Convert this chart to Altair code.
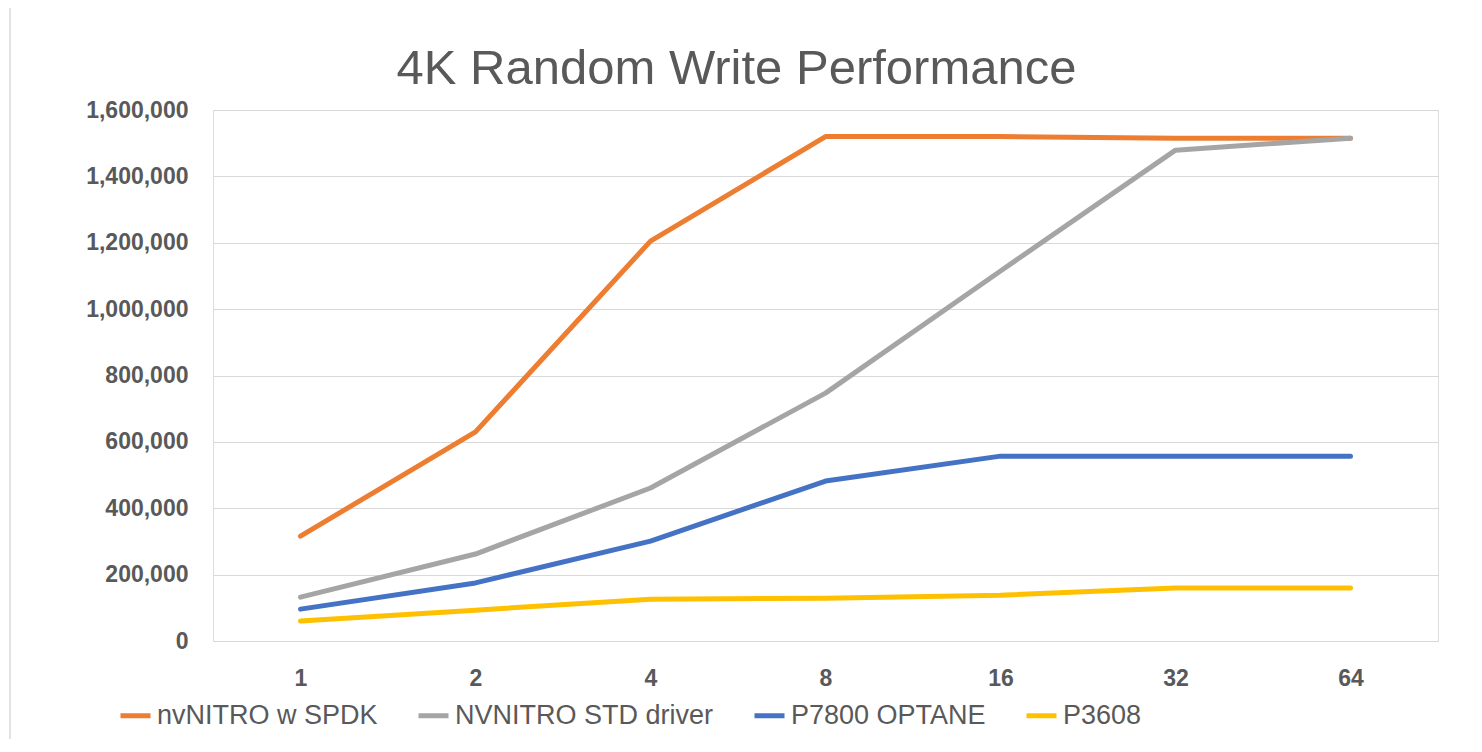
import altair as alt
import pandas as pd

categories = ["1", "2", "4", "8", "16", "32", "64"]
series_names = ["nvNITRO w SPDK", "NVNITRO STD driver", "P7800 OPTANE", "P3608"]
nvnitro_spdk = [316000, 630000, 1205000, 1520000, 1520000, 1515000, 1515000]
nvnitro_std = [132000, 262000, 461000, 747000, 1115000, 1479000, 1515000]
p7800_optane = [96000, 175000, 301000, 482000, 557000, 557000, 557000]
p3608 = [60000, 93000, 126000, 129000, 138000, 160000, 160000]
colors = ["#ED7D31", "#A5A5A5", "#4472C4", "#FFC000"]
title_text = "4K Random Write Performance"

rows = []
for name, vals in zip(series_names, [nvnitro_spdk, nvnitro_std, p7800_optane, p3608]):
    for c, v in zip(categories, vals):
        rows.append({"qd": c, "iops": v, "series": name})
df = pd.DataFrame(rows)

W, H = 1225, 531
grey = "#595959"

lines = alt.Chart(df).mark_line(strokeWidth=5, strokeCap="round", strokeJoin="round").encode(
    x=alt.X("qd:N", sort=categories, scale=alt.Scale(type="point", padding=0.5),
            axis=alt.Axis(title=None, labelAngle=0, labelFont="Liberation Sans", labelFontSize=23,
                          labelFontWeight="bold", labelColor=grey, ticks=False, domain=False,
                          labelPadding=26, grid=False)),
    y=alt.Y("iops:Q", scale=alt.Scale(domain=[0, 1600000], nice=False),
            axis=alt.Axis(title=None, values=list(range(0, 1600001, 200000)), format=",d",
                          labelFont="Liberation Sans", labelFontSize=23, labelFontWeight="bold",
                          labelColor=grey, ticks=False, domain=False, labelPadding=25,
                          grid=True, gridColor="#D9D9D9", gridWidth=1.2)),
    color=alt.Color("series:N", sort=series_names,
                    scale=alt.Scale(domain=series_names, range=colors),
                    legend=alt.Legend(title=None, orient="none", direction="horizontal",
                                      legendX=-95, legendY=588, symbolType="stroke",
                                      symbolStrokeWidth=5, symbolSize=900,
                                      labelFont="Liberation Sans", labelFontSize=27,
                                      labelColor=grey, labelOffset=4, columnPadding=30,
                                      labelLimit=400)),
)

title = alt.Chart(pd.DataFrame({"t": [title_text]})).mark_text(
    font="Liberation Sans", fontSize=49, color=grey, baseline="alphabetic", align="center"
).encode(text="t:N", x=alt.value(736.5 - 213), y=alt.value(84 - 110))

border_df = pd.DataFrame({"a": [0]})
left_border = alt.Chart(border_df).mark_rule(color="#D9D9D9", strokeWidth=1.5).encode(
    x=alt.value(-203), y=alt.value(-106), y2=alt.value(640))
top_border = alt.Chart(border_df).mark_rule(color="#D9D9D9", strokeWidth=1.5).encode(
    x=alt.value(-203), x2=alt.value(1260), y=alt.value(-106))

chart = alt.layer(left_border, top_border, lines, title).properties(
    width=W, height=H,
    autosize=alt.AutoSizeParams(type="none"),
    padding={"left": 205, "top": 102, "right": 30, "bottom": 98},
).configure_view(stroke=None).configure(background="white")

chart.save("out.html", embed_options={"renderer": "svg", "actions": False})
